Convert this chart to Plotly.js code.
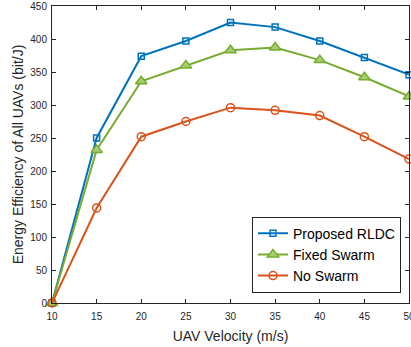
<!DOCTYPE html>
<html><head><meta charset="utf-8">
<script src="https://cdn.plot.ly/plotly-3.0.1.min.js"></script>
<style>html,body{margin:0;padding:0;background:#fff;}#chart{width:411px;height:347px;}</style>
</head><body><div id="chart"></div>
<script>
const velocity = [10, 15, 20, 25, 30, 35, 40, 45, 50];
const proposedRLDC = [0, 250, 374, 397, 425, 418, 397, 372, 346];
const fixedSwarm = [0, 232, 336, 360, 383, 387, 368, 342, 313];
const noSwarm = [0, 144, 252, 275, 296, 292, 284, 252, 218];
const seriesNames = ["Proposed RLDC", "Fixed Swarm", "No Swarm"];

const FONT = 'Liberation Sans, Arial, sans-serif';
const traces = [
  {x: velocity, y: proposedRLDC, name: seriesNames[0], mode: 'lines+markers', cliponaxis: false,
   line: {color: '#0072BD', width: 2}, marker: {symbol: 'square-open', size: 6, color: '#0072BD', line: {width: 1.5}}},
  {x: velocity, y: fixedSwarm, name: seriesNames[1], mode: 'lines+markers', cliponaxis: false,
   line: {color: '#77AC30', width: 2}, marker: {symbol: 'triangle-up', size: 10, color: '#a5cc70', line: {color: '#77AC30', width: 1.5}}},
  {x: velocity, y: noSwarm, name: seriesNames[2], mode: 'lines+markers', cliponaxis: false,
   line: {color: '#D95319', width: 2}, marker: {symbol: 'circle-open', size: 8, color: '#D95319', line: {width: 1.5}}}
];

const axisCommon = {
  showgrid: false, zeroline: false, showline: true, linecolor: '#262626', linewidth: 1,
  mirror: 'ticks', ticks: 'inside', ticklen: 4, tickcolor: '#262626',
  ticklabeloverflow: 'allow',
  tickfont: {family: FONT, size: 10, color: '#262626'}
};

const layout = {
  width: 411, height: 347,
  margin: {l: 52, r: 2, t: 6, b: 44},
  paper_bgcolor: '#fff', plot_bgcolor: '#fff',
  showlegend: true,
  xaxis: Object.assign({}, axisCommon, {range: [10, 50], tickvals: velocity, ticktext: velocity.map(String),
    ticklabelstandoff: 4,
    title: {text: 'UAV Velocity (m/s)', standoff: 10, font: {family: FONT, size: 14, color: '#262626'}}}),
  yaxis: Object.assign({}, axisCommon, {range: [0, 450], dtick: 50, tick0: 0,
    ticklabelstandoff: 2,
    title: {text: 'Energy Efficiency of All UAVs (bit/J)', standoff: 3, font: {family: FONT, size: 14, color: '#262626'}}}),
  legend: {x: 0.9776, y: 0.035, xanchor: 'right', yanchor: 'bottom', bgcolor: '#fff', bordercolor: '#262626', borderwidth: 1,
    font: {family: FONT, size: 14, color: '#000'}, tracegroupgap: 0, itemwidth: 30}
};

Plotly.newPlot('chart', traces, layout, {displayModeBar: false, staticPlot: true});
</script></body></html>
